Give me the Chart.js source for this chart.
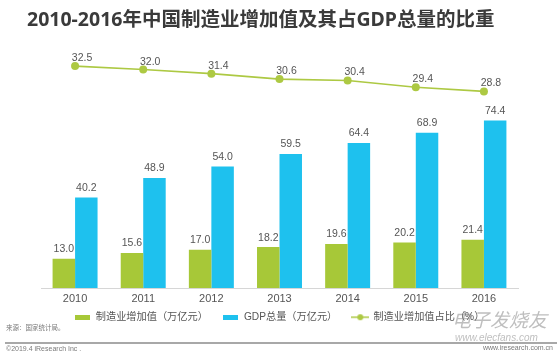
<!DOCTYPE html>
<html>
<head>
<meta charset="utf-8">
<script src="https://cdn.jsdelivr.net/npm/chart.js@4/dist/chart.umd.min.js"></script>
<style>
  html, body { margin: 0; padding: 0; background: #fff; }
  #wrap { position: relative; width: 557px; height: 357px; overflow: hidden; }
  canvas { position: absolute; left: 0; top: 0; }
  .txt { position: absolute; white-space: nowrap; }
  #title { left: 27px; top: 9px; line-height: 20px; font-size: 19.5px; font-weight: bold; color: #3a3a3a;
           font-family: "Noto Sans", "Noto Sans CJK SC", sans-serif; }
  #src { left: 6px; top: 324px; font-size: 6.5px; line-height: 8px; color: #7a7a7a; font-family: "Liberation Sans", "Noto Sans CJK SC", sans-serif; }
  #rule { position: absolute; left: 5px; right: 0; top: 342px; height: 1.5px; background: #a8a8a8; }
  #copy { left: 6px; top: 344px; font-size: 7px; line-height: 9px; color: #7a7a7a; font-family: "Liberation Sans", sans-serif; }
  #site { right: 4px; top: 343px; font-size: 7px; line-height: 9px; color: #7a7a7a; font-family: "Liberation Sans", sans-serif; }
  #wm1 { left: 452px; top: 308px; font-size: 19px; line-height: 22px; font-style: italic; color: rgba(110,110,110,0.45); font-family: "Noto Sans CJK SC", sans-serif; }
  #wm2 { left: 455px; top: 332px; font-size: 10px; line-height: 11px; font-style: italic; color: rgba(110,110,110,0.45); font-family: "Liberation Sans", sans-serif; }
</style>
</head>
<body>
<div id="wrap">
  <canvas id="c" width="557" height="357"></canvas>
  <div class="txt" id="title">2010-2016年中国制造业增加值及其占GDP总量的比重</div>
  <div class="txt" id="src">来源：国家统计局。</div>
  <div id="rule"></div>
  <div class="txt" id="copy">©2019.4 iResearch Inc .</div>
  <div class="txt" id="site">www.iresearch.com.cn</div>
  <div class="txt" id="wm1">电子发烧友</div>
  <div class="txt" id="wm2">www.elecfans.com</div>
</div>
<script>
// ---- data ----
const years = ['2010', '2011', '2012', '2013', '2014', '2015', '2016'];
const mfgValue = [13.0, 15.6, 17.0, 18.2, 19.6, 20.2, 21.4];   // 制造业增加值（万亿元）
const gdpTotal = [40.2, 48.9, 54.0, 59.5, 64.4, 68.9, 74.4];   // GDP总量（万亿元）
const mfgShare = [32.5, 32.0, 31.4, 30.6, 30.4, 29.4, 28.8];   // 制造业增加值占比（%）
const seriesNames = ['制造业增加值（万亿元）', 'GDP总量（万亿元）', '制造业增加值占比（%）'];

const GREEN = '#a7c838';
const LINEGREEN = '#adc943';
const BLUE = '#1ec1ee';
const LABEL = '#555555';

function rectSwatch(color) {
  const c = document.createElement('canvas');
  c.width = 15; c.height = 5;
  const x = c.getContext('2d');
  x.fillStyle = color; x.fillRect(0, 0, 15, 5);
  return c;
}
function lineSwatch(color) {
  const c = document.createElement('canvas');
  c.width = 18; c.height = 8;
  const x = c.getContext('2d');
  x.strokeStyle = color; x.lineWidth = 1.5;
  x.beginPath(); x.moveTo(0, 4); x.lineTo(18, 4); x.stroke();
  x.fillStyle = color; x.beginPath(); x.arc(9, 4, 3, 0, Math.PI * 2); x.fill();
  return c;
}
const swatches = [rectSwatch(GREEN), rectSwatch(BLUE), lineSwatch(LINEGREEN)];

const valueLabels = {
  id: 'valueLabels',
  afterDatasetsDraw(chart) {
    const ctx = chart.ctx;
    ctx.save();
    ctx.font = '10.5px "Liberation Sans", Arial, sans-serif';
    ctx.fillStyle = LABEL;
    ctx.textBaseline = 'alphabetic';
    ctx.textAlign = 'center';
    chart.data.datasets.forEach((ds, i) => {
      const meta = chart.getDatasetMeta(i);
      meta.data.forEach((el, j) => {
        const v = ds.data[j].toFixed(1);
        if (ds.type === 'line') {
          ctx.fillText(v, el.x + 7, el.y - 5);
        } else {
          ctx.fillText(v, el.x, el.y - 6.5);
        }
      });
    });
    ctx.restore();
  }
};

// pull the legend row up closer to the axis labels
const legendShift = {
  id: 'legendShift',
  afterLayout(chart) {
    const l = chart.legend;
    if (l) { l.top -= 13; l.bottom -= 13; }
  }
};

new Chart(document.getElementById('c'), {
  data: {
    labels: years,
    datasets: [
      { type: 'bar', label: seriesNames[0], data: mfgValue, backgroundColor: GREEN, yAxisID: 'y',
        categoryPercentage: 0.66, barPercentage: 1.0 },
      { type: 'bar', label: seriesNames[1], data: gdpTotal, backgroundColor: BLUE, yAxisID: 'y',
        categoryPercentage: 0.66, barPercentage: 1.0 },
      { type: 'line', label: seriesNames[2], data: mfgShare, borderColor: LINEGREEN, backgroundColor: LINEGREEN,
        borderWidth: 1.6, pointRadius: 4, pointBackgroundColor: LINEGREEN, pointBorderWidth: 0,
        yAxisID: 'y2', tension: 0, clip: false }
    ]
  },
  options: {
    responsive: false,
    animation: false,
    layout: { padding: { top: 62.7, left: 41, right: 39, bottom: 11.7 } },
    scales: {
      x: {
        offset: true,
        grid: { display: false, drawTicks: false },
        border: { display: true, color: '#d6d6d6', width: 1 },
        ticks: { color: '#555555', padding: 5.5, font: { size: 11, lineHeight: 1, family: '"Liberation Sans", Arial, sans-serif' } }
      },
      y: { display: false, min: 0, max: 100 },
      y2: { display: false, min: 0, max: 33 }
    },
    plugins: {
      title: { display: false },
      tooltip: { enabled: false },
      legend: {
        position: 'bottom',
        labels: {
          usePointStyle: true,
          pointStyleWidth: 16,
          padding: 15,
          color: '#555555',
          font: { size: 10.2, family: '"Liberation Sans", "Noto Sans CJK SC", sans-serif' },
          generateLabels(chart) {
            const items = Chart.defaults.plugins.legend.labels.generateLabels(chart);
            items.forEach((it, i) => { it.pointStyle = swatches[i]; });
            return items;
          }
        }
      }
    }
  },
  plugins: [valueLabels, legendShift]
});
</script>
</body>
</html>
